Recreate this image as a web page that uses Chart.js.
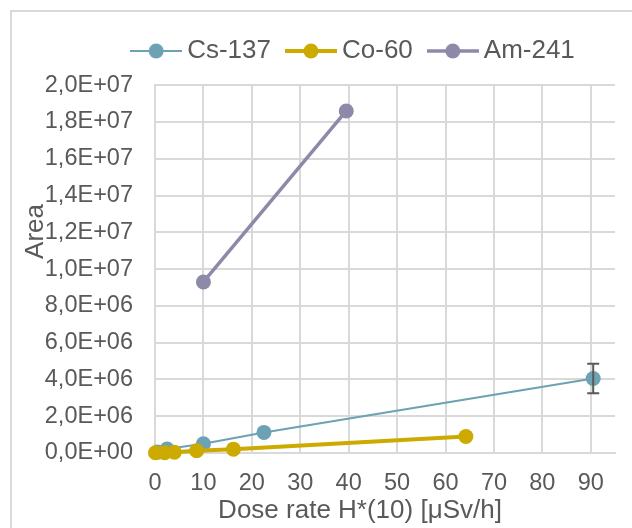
<!DOCTYPE html>
<html>
<head>
<meta charset="utf-8">
<script src="https://cdn.jsdelivr.net/npm/chart.js@4.4.1/dist/chart.umd.min.js"></script>
<style>
  html, body { margin: 0; padding: 0; background: #ffffff; overflow: hidden; }
  #wrap { position: relative; width: 632px; height: 528px; }
  #frame { position: absolute; left: 10px; top: 10px; width: 700px; height: 600px; border: 2px solid #d9d9d9; box-sizing: border-box; }
  canvas { position: absolute; left: 0; top: 0; }
</style>
</head>
<body>
<div id="wrap">
  <div id="frame"></div>
  <canvas id="c" width="632" height="528"></canvas>
</div>
<script>
// ---- data ----
const seriesNames = ['Cs-137', 'Co-60', 'Am-241'];

const csX   = [0.5, 2.5, 10, 22.5, 90.5];
const csY   = [5.0e4, 2.2e5, 5.0e5, 1.12e6, 4.05e6];
const csErr = [0, 0, 0, 0, 8.0e5];

const coX = [0.1, 2, 4, 8.6, 16.2, 64.2];
const coY = [1.0e4, 2.0e4, 4.0e4, 1.25e5, 2.1e5, 9.0e5];

const amX = [10, 39.5];
const amY = [9.3e6, 1.86e7];

const xTitle = 'Dose rate H*(10) [μSv/h]';
const yTitle = 'Area';

// ---- helpers ----
const TXT = '#595959';
const GRID = '#d9d9d9';
const FONT = "'Liberation Sans', Arial, sans-serif";
const colors = ['#6ca2b3', '#ccaa00', '#8d89a8'];
const lineWidths = [2, 4, 3.5];

function pts(xs, ys) { return xs.map((x, i) => ({ x: x, y: ys[i] })); }

function sci(v) {
  if (v === 0) return '0,0E+00';
  const e = Math.floor(Math.log10(Math.abs(v)) + 1e-9);
  const m = v / Math.pow(10, e);
  const es = (e < 0 ? '-' : '+') + String(Math.abs(e)).padStart(2, '0');
  return m.toFixed(1).replace('.', ',') + 'E' + es;
}

function legendIcon(color, lw) {
  const cv = document.createElement('canvas');
  cv.width = 52; cv.height = 18;
  const g = cv.getContext('2d');
  g.strokeStyle = color; g.lineWidth = lw;
  g.beginPath(); g.moveTo(0, 9); g.lineTo(52, 9); g.stroke();
  g.fillStyle = color;
  g.beginPath(); g.arc(26, 9, 7.5, 0, Math.PI * 2); g.fill();
  return cv;
}
const icons = colors.map((c, i) => legendIcon(c, Math.min(lineWidths[i], 4)));

const errorBars = {
  id: 'errorBars',
  afterDatasetsDraw(chart) {
    const ctx = chart.ctx, xs = chart.scales.x, ys = chart.scales.y;
    ctx.save();
    ctx.strokeStyle = '#595959';
    ctx.lineWidth = 2;
    csX.forEach((x, i) => {
      const e = csErr[i];
      if (!e) return;
      const px = xs.getPixelForValue(x);
      const top = ys.getPixelForValue(csY[i] + e);
      const bot = ys.getPixelForValue(csY[i] - e);
      ctx.beginPath();
      ctx.moveTo(px, top); ctx.lineTo(px, bot);
      ctx.moveTo(px - 6, top); ctx.lineTo(px + 6, top);
      ctx.moveTo(px - 6, bot); ctx.lineTo(px + 6, bot);
      ctx.stroke();
    });
    ctx.restore();
  }
};

const axisTitles = {
  id: 'axisTitles',
  afterDraw(chart) {
    const ctx = chart.ctx;
    ctx.save();
    ctx.fillStyle = TXT;
    ctx.font = '26px ' + FONT;
    ctx.textAlign = 'center';
    ctx.textBaseline = 'alphabetic';
    ctx.fillText(xTitle, 360, 518);
    ctx.translate(43, 231.5);
    ctx.rotate(-Math.PI / 2);
    ctx.fillText(yTitle, 0, 0);
    ctx.restore();
  }
};

// shift the legend block to the right, as in the reference
const legendShift = {
  id: 'legendShift',
  afterLayout(chart) {
    const lg = chart.legend;
    if (lg) { lg.left += 39; lg.right += 39; }
  }
};

const datasets = [
  { label: seriesNames[0], data: pts(csX, csY), order: 2 },
  { label: seriesNames[1], data: pts(coX, coY), order: 1 },
  { label: seriesNames[2], data: pts(amX, amY), order: 3 }
].map((d, i) => Object.assign(d, {
  borderColor: colors[i],
  backgroundColor: colors[i],
  borderWidth: lineWidths[i],
  pointRadius: 7.5,
  pointHoverRadius: 7.5,
  pointBorderWidth: 0,
  showLine: true,
  tension: 0,
  clip: false,
  pointStyle: 'circle'
}));

new Chart(document.getElementById('c'), {
  type: 'scatter',
  data: { datasets: datasets },
  options: {
    responsive: false,
    animation: false,
    layout: { padding: { top: 16, right: 17, bottom: 0, left: 20 } },
    plugins: {
      tooltip: { enabled: false },
      subtitle: { display: true, text: '', font: { size: 1 }, padding: { top: 10, bottom: 0 } },
      legend: {
        position: 'top',
        weight: 1600,
        labels: {
          color: TXT,
          font: { family: FONT, size: 26 },
          usePointStyle: true,
          pointStyleWidth: 36,
          padding: 22,
          sort: (a, b) => a.datasetIndex - b.datasetIndex,
          generateLabels(chart) {
            return chart.data.datasets.map((ds, i) => ({
              text: ds.label,
              pointStyle: icons[i],
              fillStyle: colors[i],
              strokeStyle: colors[i],
              lineWidth: 0,
              fontColor: TXT,
              hidden: false,
              datasetIndex: i
            }));
          }
        }
      }
    },
    scales: {
      x: {
        type: 'linear',
        min: 0, max: 95,
        afterFit(s) { s.height = 75; },
        grid: { color: GRID, lineWidth: 2, drawTicks: false },
        border: { color: GRID, width: 2 },
        ticks: { stepSize: 10, includeBounds: false, color: TXT, font: { family: FONT, size: 23.5 }, padding: 16, maxRotation: 0 },
        title: { display: false, text: xTitle }
      },
      y: {
        type: 'linear',
        min: 0, max: 2e7,
        afterFit(s) { s.width = 135; },
        grid: { color: GRID, lineWidth: 2, drawTicks: false },
        border: { color: GRID, width: 2 },
        ticks: { stepSize: 2e6, color: TXT, font: { family: FONT, size: 23.5 }, padding: 22, callback: v => sci(v) },
        title: { display: false, text: yTitle }
      }
    }
  },
  plugins: [errorBars, axisTitles, legendShift]
});
</script>
</body>
</html>
